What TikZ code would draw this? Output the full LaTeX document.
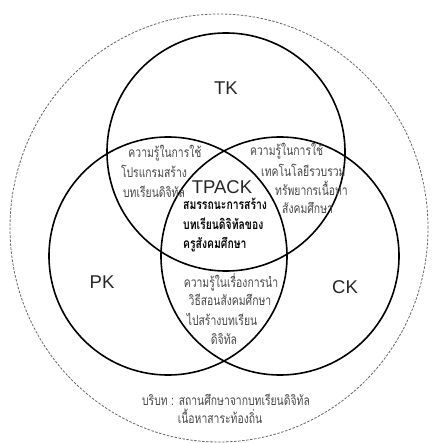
\documentclass[tikz,border=0pt]{standalone}
\usepackage{fontspec}
\setmainfont{Liberation Sans}
\newfontfamily\thai[Script=Thai, FakeStretch=0.76]{Loma}
\newlength\measlen
\begin{document}
\settowidth\measlen{\thai\fontsize{10}{12}\selectfont ความรู้ในการใช้ความรู้ในเรื่องการนำบริบท : สถานศึกษาจากบทเรียนดิจิทัล}%
\pgfmathsetmacro\regsize{10*335/\measlen}%
\settowidth\measlen{\thai\bfseries\fontsize{10}{12}\selectfont สมรรถนะการสร้างบทเรียนดิจิทัลของ}%
\pgfmathsetmacro\boldsize{10*164/\measlen}%
\begin{tikzpicture}[x=1pt,y=-1pt,
  venn/.style={draw=black, line width=1.6pt, circle, minimum size=238pt, inner sep=0pt},
  ctx/.style={draw=black!60, line width=0.8pt, dash pattern=on 2.5pt off 1.5pt},
  big/.style={font=\fontsize{18.5}{20}\selectfont, text=black!85},
  thaitxt/.style={font=\thai\fontsize{\regsize}{20}\selectfont, text=black!72, inner sep=0pt, anchor=base},
  thaibold/.style={font=\thai\bfseries\fontsize{\boldsize}{20}\selectfont, text=black, inner sep=0pt, anchor=base west}]
\useasboundingbox (0,0) rectangle (431,443);
\draw[ctx] (219,228) ellipse [x radius=209pt, y radius=214pt];
\node[venn] (tk) at (226,152) {};
\node[venn] (pk) at (168,256) {};
\node[venn] (ck) at (280,256) {};
\node[big] (tkl) at (226,88) {TK};
\node[big] (pkl) at (102,282) {PK};
\node[big] (ckl) at (345,287) {CK};
\node[big] (tpack) at (222,187) {TPACK};
\node[thaibold] (core1) at (183,210) {สมรรถนะการสร้าง};
\node[thaibold] (core2) at (183,229) {บทเรียนดิจิทัลของ};
\node[thaibold] (core3) at (183,248) {ครูสังคมศึกษา};
\node[thaitxt] (tp1) at (165,158) {ความรู้ในการใช้};
\node[thaitxt] (tp2) at (154,178) {โปรแกรมสร้าง};
\node[thaitxt] (tp3) at (154,197) {บทเรียนดิจิทัล};
\node[thaitxt, anchor=base west] (tc1) at (250,156) {ความรู้ในการใช้};
\node[thaitxt, anchor=base west] (tc2) at (261,177) {เทคโนโลยีรวบรวม};
\node[thaitxt, anchor=base west] (tc3) at (275,196) {ทรัพยากรเนื้อหา};
\node[thaitxt, anchor=base west] (tc4) at (282,214) {สังคมศึกษา};
\node[thaitxt] (pc1) at (231,287) {ความรู้ในเรื่องการนำ};
\node[thaitxt] (pc2) at (230,305) {วิธีสอนสังคมศึกษา};
\node[thaitxt] (pc3) at (222,325) {ไปสร้างบทเรียน};
\node[thaitxt] (pc4) at (224,344) {ดิจิทัล};
\node[thaitxt] (ctx1) at (226,405) {บริบท : สถานศึกษาจากบทเรียนดิจิทัล};
\node[thaitxt] (ctx2) at (220,423) {เนื้อหาสาระท้องถิ่น};
\end{tikzpicture}
\end{document}
